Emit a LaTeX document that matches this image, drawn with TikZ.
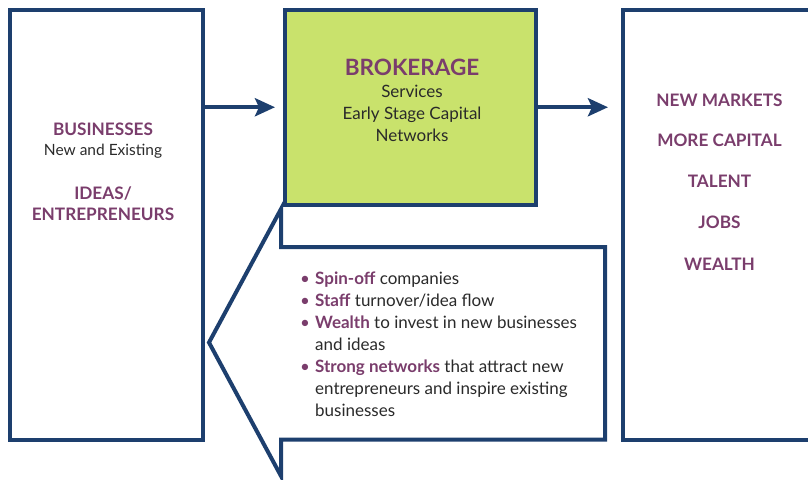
\documentclass[tikz,border=0pt]{standalone}
\usepackage{fontspec}
\setmainfont{Lato}
\usetikzlibrary{arrows.meta}
\definecolor{navy}{HTML}{1D3F6E}
\definecolor{plum}{HTML}{7A3D6C}
\definecolor{lime}{HTML}{C9E26C}
\definecolor{ink}{HTML}{2A2A2A}
\newcommand\keyw[1]{\textcolor{plum}{\bfseries #1}}
\newcommand\dotb{\textcolor{plum}{\textbullet}}
\begin{document}
\begin{tikzpicture}[x=1pt,y=-1pt,
  frame/.style={draw=navy,line width=4pt,inner sep=0pt,outer sep=0pt},
  flow/.style={draw=navy,line width=4pt,-{Stealth[length=20pt,width=18pt,inset=4pt]}},
  head/.style={font=\fontsize{17.2}{20}\selectfont\bfseries,text=plum,anchor=base,inner sep=0pt},
  body/.style={font=\fontsize{17}{22}\selectfont,text=ink,anchor=base,inner sep=0pt},
]
\useasboundingbox (0,0) rectangle (808,479);
\clip (0,0) rectangle (808,479);

% the three boxes
\node[frame,minimum width=193pt,minimum height=430.5pt] (left) at (106,224.75) {};
\node[frame,fill=lime,minimum width=250.5pt,minimum height=195.5pt] (brok) at (410.25,107.25) {};
\node[frame,minimum width=194pt,minimum height=430.5pt] (right) at (719.5,224.75) {};

% forward flow
\draw[flow,shorten >=10pt] (left.east |- brok.west) -- (brok.west);
\draw[flow,shorten >=14.5pt] (brok.east) -- (right.west |- brok.east);

% feedback arrow pointing back to the businesses
\coordinate (ht) at (281,209);
\coordinate (st) at (281,247);
\coordinate (sr) at (605,247);
\coordinate (br) at (605,439.5);
\coordinate (sb) at (281,439.5);
\coordinate (hb) at (281,476);
\coordinate (tip) at (209,342.5);
\draw[navy,line width=4pt,fill=white,line join=miter] (ht) -- (st) -- (sr) -- (br) -- (sb) -- (hb) -- (tip) -- cycle;

% left box text
\node[head] (bus) at (103,135) {BUSINESSES};
\node[body,font=\fontsize{15.5}{18}\selectfont] (newex) at (103,155) {New and Existing};
\node[head] (ideas) at (103,199.5) {IDEAS/};
\node[head] (entr) at (103,220) {ENTREPRENEURS};

% brokerage box text
\node[head,font=\fontsize{22.5}{24}\selectfont\bfseries] (bk) at (412,75.3) {BROKERAGE};
\node[body] (svc) at (412,97.3) {Services};
\node[body] (esc) at (412,119.3) {Early Stage Capital};
\node[body] (net) at (412,141.3) {Networks};

% outcomes
\node[head] (o1) at (719.5,106) {NEW MARKETS};
\node[head] (o2) at (719.5,146) {MORE CAPITAL};
\node[head] (o3) at (719.5,187) {TALENT};
\node[head] (o4) at (719.5,228) {JOBS};
\node[head] (o5) at (719.5,270) {WEALTH};

% feedback list
\node[body,anchor=base west] (list) at (300,284) {%
  \begin{tabular}[t]{@{}p{15pt}@{}l@{}}
  \dotb & \keyw{Spin-off} companies\\
  \dotb & \keyw{Staff} turnover/idea flow\\
  \dotb & \keyw{Wealth} to invest in new businesses\\
        & and ideas\\
  \dotb & \keyw{Strong networks} that attract new\\
        & entrepreneurs and inspire existing\\
        & businesses
  \end{tabular}};
\end{tikzpicture}
\end{document}
